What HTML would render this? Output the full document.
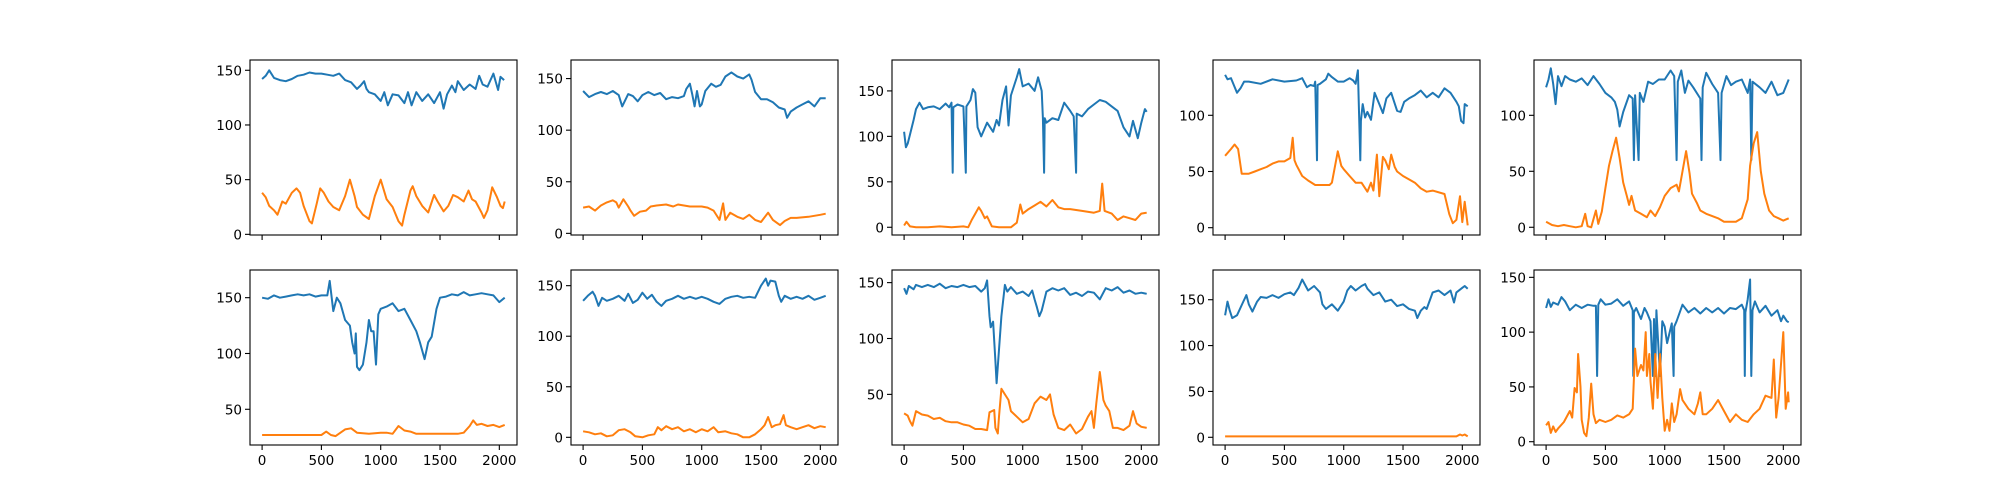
<!DOCTYPE html>
<html><head><meta charset="utf-8"><style>
html,body{margin:0;padding:0;background:#fff;}
svg{display:block;font-family:"DejaVu Sans","Liberation Sans",sans-serif;}
</style></head><body>
<svg id="fig" width="2000" height="500" viewBox="0 0 2000 500" xmlns="http://www.w3.org/2000/svg"></svg>
<script>
// x-axis ticks
const xTicks = [0, 500, 1000, 1500, 2000];
const xRange = [-102, 2149];
// y-limits per panel
const yLims = [[-0.6,159.4],[-1.6,168],[-8.5,184],[-6.5,149.2],[-6.9,149.4],[18,174.8],[-7.6,165.5],[4.7,161.3],[-8.4,182.4],[-3,156.7]];
// series: [x,y] pairs (blue = series A, orange = series B)
const blue1=[[0,142],[30,145],[60,150],[100,143],[150,141],[200,140],[250,142],[300,145],[350,146],[400,148],[450,147],[500,147],[550,146],[600,145],[650,147],[700,141],[750,139],[800,133],[830,136],[860,140],[880,133],[900,130],[950,128],[1000,122],[1030,130],[1060,118],[1100,128],[1150,127],[1200,120],[1230,130],[1260,118],[1300,130],[1350,122],[1400,128],[1450,120],[1500,130],[1530,115],[1560,128],[1600,136],[1630,130],[1650,140],[1700,132],[1750,137],[1800,133],[1830,145],[1860,137],[1900,135],[1950,147],[1990,132],[2010,144],[2040,141]];
const orange1=[[0,38],[30,34],[60,26],[100,22],[130,18],[170,30],[200,28],[250,38],[290,42],[320,38],[350,26],[400,12],[420,10],[460,28],[490,42],[520,38],[560,30],[600,25],[650,22],[700,35],[740,50],[780,35],[800,25],[850,18],[900,14],[950,35],[1000,50],[1050,32],[1100,25],[1150,12],[1180,8],[1200,18],[1250,40],[1270,44],[1300,35],[1350,26],[1400,20],[1450,36],[1480,30],[1530,21],[1570,26],[1610,36],[1650,34],[1700,30],[1740,40],[1770,32],[1800,30],[1850,20],[1870,15],[1900,22],[1940,43],[1980,34],[2010,26],[2030,24],[2045,30]];
const blue2=[[0,138],[50,132],[100,135],[150,137],[200,135],[250,138],[300,134],[330,123],[380,135],[420,133],[460,128],[500,134],[550,137],[600,134],[650,136],[700,130],[750,132],[800,131],[850,133],[870,140],[900,145],[920,135],[940,123],[960,138],[985,123],[1000,125],[1030,138],[1080,145],[1120,142],[1160,144],[1200,152],[1250,156],[1300,152],[1350,150],[1400,154],[1420,149],[1450,137],[1500,130],[1550,130],[1600,127],[1650,122],[1700,120],[1720,112],[1750,118],[1800,122],[1850,125],[1900,128],[1950,123],[2000,131],[2045,131]];
const orange2=[[0,25],[50,26],[100,22],[150,27],[200,30],[250,32],[280,30],[300,25],[340,33],[380,26],[400,22],[430,17],[480,21],[530,22],[570,26],[620,27],[700,28],[760,26],[800,28],[900,26],[1000,26],[1050,25],[1100,22],[1150,13],[1180,29],[1200,13],[1240,20],[1300,16],[1350,14],[1400,18],[1450,13],[1500,11],[1560,20],[1600,13],[1660,8],[1700,12],[1750,15],[1800,15],[1900,16],[2000,18],[2045,19]];
const blue3=[[0,105],[15,88],[30,92],[50,102],[80,118],[100,130],[130,137],[160,130],[200,132],[250,133],[300,130],[350,136],[380,132],[400,137],[410,60],[415,132],[450,135],[500,133],[520,60],[525,133],[560,140],[580,152],[600,148],[620,110],[650,100],[700,115],[750,105],[780,118],[800,112],[830,140],[860,155],[880,112],[900,145],[950,165],[970,174],[1000,155],[1050,158],[1100,150],[1130,165],[1160,150],[1170,120],[1180,60],[1185,120],[1200,115],[1250,120],[1300,118],[1350,137],[1400,128],[1430,122],[1450,60],[1455,125],[1500,122],[1550,130],[1600,135],[1650,140],[1700,138],[1750,133],[1800,128],[1850,110],[1900,100],[1930,117],[1970,98],[2000,115],[2030,130],[2045,127]];
const orange3=[[0,2],[20,6],[50,1],[100,0],[200,0],[300,1],[400,0],[500,1],[540,0],[570,8],[600,15],[630,22],[650,18],[680,10],[700,12],[740,1],[800,0],[850,0],[900,0],[950,5],[980,25],[1000,15],[1050,20],[1100,24],[1150,28],[1200,23],[1250,30],[1300,22],[1350,20],[1400,20],[1500,18],[1600,16],[1650,18],[1670,48],[1690,18],[1750,15],[1800,8],[1850,12],[1900,10],[1950,8],[2000,15],[2045,16]];
const blue4=[[0,136],[20,132],[50,133],[100,120],[130,124],[160,130],[200,130],[300,128],[400,132],[500,130],[600,131],[650,133],[690,125],[720,127],[750,126],[760,130],[775,60],[780,127],[800,128],[850,132],[870,137],[900,134],[950,130],[1000,130],[1050,133],[1080,131],[1100,128],[1120,140],[1130,100],[1140,60],[1145,95],[1160,110],[1180,98],[1200,103],[1230,96],[1260,120],[1300,110],[1330,102],[1360,115],[1400,120],[1450,104],[1480,103],[1510,112],[1550,115],[1600,118],[1650,122],[1700,116],[1750,120],[1800,116],[1850,124],[1900,120],[1950,112],[1970,108],[1990,95],[2010,93],[2020,110],[2045,108]];
const orange4=[[0,64],[50,70],[80,74],[110,70],[140,48],[200,48],[250,50],[300,52],[350,54],[400,57],[450,59],[500,59],[550,62],[570,80],[585,60],[600,56],[650,46],[700,42],[760,38],[800,38],[850,38],[880,38],[900,40],[950,68],[980,55],[1000,52],[1050,46],[1100,40],[1150,40],[1200,32],[1230,40],[1250,33],[1280,65],[1300,28],[1330,63],[1350,60],[1380,52],[1400,65],[1430,54],[1450,50],[1500,46],[1550,43],[1600,40],[1650,35],[1700,32],[1750,33],[1850,30],[1890,12],[1920,4],[1950,7],[1980,28],[2000,5],[2020,23],[2045,2]];
const blue5=[[0,125],[20,132],[40,142],[60,128],[80,110],[100,135],[130,126],[160,135],[200,132],[250,130],[300,133],[350,127],[400,135],[450,128],[500,120],[550,116],[580,112],[600,105],[620,90],[650,103],[700,118],[730,115],[740,60],[750,118],[780,60],[790,120],[820,112],[860,130],[900,128],[950,132],[1000,132],[1050,140],[1080,135],[1100,60],[1110,130],[1140,140],[1170,120],[1200,131],[1240,125],[1300,115],[1310,60],[1320,125],[1350,138],[1400,128],[1450,120],[1470,60],[1480,120],[1520,135],[1560,127],[1600,130],[1650,132],[1700,120],[1720,132],[1730,60],[1740,130],[1800,125],[1850,120],[1900,130],[1950,118],[2000,120],[2045,132]];
const orange5=[[0,5],[50,2],[100,1],[150,2],[200,1],[250,0],[300,1],[330,12],[350,1],[380,0],[420,15],[440,3],[470,14],[500,35],[530,55],[560,68],[590,80],[620,62],[650,40],[680,28],[700,20],[720,28],[750,15],[800,12],[850,9],[880,15],[920,10],[960,18],[1000,28],[1050,35],[1100,38],[1120,32],[1150,50],[1180,68],[1210,48],[1230,30],[1270,22],[1300,15],[1350,12],[1400,10],[1450,8],[1500,5],[1550,5],[1600,5],[1650,8],[1700,25],[1720,55],[1750,75],[1780,85],[1810,50],[1840,30],[1880,15],[1920,10],[1960,8],[2000,6],[2045,8]];
const blue6=[[0,150],[50,149],[100,152],[150,150],[200,151],[250,152],[300,153],[350,152],[400,153],[450,151],[500,152],[550,152],[570,165],[600,138],[630,150],[660,145],[700,130],[740,125],[760,110],[780,100],[790,118],[800,88],[820,85],[850,90],[880,110],[900,130],[920,120],[940,120],[960,90],[980,135],[1000,140],[1050,142],[1100,145],[1150,138],[1200,140],[1250,130],[1300,120],[1330,110],[1370,95],[1400,110],[1430,115],[1470,140],[1500,150],[1550,151],[1600,153],[1650,152],[1700,155],[1750,152],[1800,153],[1850,154],[1900,153],[1950,152],[2000,146],[2045,150]];
const orange6=[[0,27],[500,27],[540,30],[580,27],[620,26],[700,32],[750,33],[800,29],[900,28],[1000,29],[1050,29],[1100,28],[1150,35],[1200,31],[1250,30],[1300,28],[1400,28],[1500,28],[1650,28],[1700,29],[1750,35],[1780,40],[1810,36],[1850,37],[1900,35],[1950,36],[2000,34],[2045,36]];
const blue7=[[0,135],[40,140],[80,144],[100,140],[130,130],[160,138],[200,135],[250,137],[300,140],[350,135],[380,142],[420,133],[460,136],[500,143],[540,137],[580,141],[620,134],[660,130],[700,135],[750,137],[800,140],[850,137],[900,139],[950,137],[1000,139],[1050,137],[1100,134],[1150,132],[1200,137],[1250,139],[1300,140],[1350,138],[1400,139],[1450,138],[1500,150],[1540,157],[1560,150],[1580,155],[1620,154],[1650,140],[1670,134],[1700,140],[1750,137],[1800,139],[1850,137],[1900,140],[1950,136],[2000,138],[2045,140]];
const orange7=[[0,6],[50,5],[100,3],[150,4],[200,1],[250,2],[300,7],[350,8],[400,5],[440,1],[500,0],[550,2],[600,3],[630,10],[660,7],[700,11],[750,8],[800,10],[850,6],[900,8],[950,5],[1000,8],[1050,6],[1100,10],[1140,5],[1200,6],[1250,4],[1300,3],[1350,0],[1400,0],[1450,3],[1500,8],[1530,12],[1560,20],[1590,10],[1620,12],[1660,13],[1690,22],[1710,12],[1750,10],[1800,8],[1850,10],[1900,12],[1950,9],[2000,11],[2045,10]];
const blue8=[[0,145],[20,140],[40,147],[80,144],[100,148],[150,146],[200,148],[250,146],[300,149],[350,145],[400,147],[450,146],[500,148],[550,146],[600,147],[650,142],[680,145],[700,152],[720,120],[730,110],[750,115],[770,80],[780,60],[800,90],[820,120],[850,148],[870,142],[900,146],[950,140],[1000,142],[1050,138],[1080,143],[1100,135],[1120,128],[1140,120],[1160,125],[1200,142],[1250,145],[1300,143],[1350,145],[1400,139],[1450,141],[1500,138],[1550,142],[1600,141],[1650,135],[1700,145],[1750,143],[1800,146],[1850,141],[1900,143],[1950,140],[2000,141],[2045,140]];
const orange8=[[0,33],[30,31],[50,26],[70,22],[100,35],[150,32],[200,31],[250,28],[300,29],[350,26],[400,25],[450,25],[500,23],[550,22],[600,19],[650,19],[700,18],[720,34],[760,36],[770,20],[790,15],[800,30],[820,55],[850,50],[880,45],[900,35],[950,30],[1000,25],[1050,28],[1100,42],[1150,48],[1200,45],[1230,50],[1260,32],[1300,20],[1350,18],[1400,23],[1450,15],[1500,19],[1550,30],[1580,35],[1600,20],[1620,42],[1650,70],[1680,45],[1700,40],[1730,35],[1760,20],[1800,20],[1850,18],[1900,22],[1930,35],[1960,24],[2000,21],[2045,20]];
const blue9=[[0,133],[20,148],[40,138],[60,130],[100,133],[150,147],[180,155],[200,145],[230,137],[270,148],[300,153],[350,152],[400,155],[450,152],[500,156],[550,158],[580,155],[620,163],[650,172],[700,160],[750,165],[800,158],[820,145],[850,140],[900,145],[950,138],[1000,148],[1030,160],[1060,165],[1100,160],[1150,165],[1180,167],[1200,162],[1250,155],[1300,158],[1350,148],[1400,150],[1450,143],[1500,145],[1550,140],[1600,138],[1620,130],[1650,138],[1680,142],[1700,140],[1750,158],[1800,160],[1850,155],[1900,160],[1930,147],[1950,158],[2000,163],[2020,165],[2045,162]];
const orange9=[[0,1],[1950,1],[1980,3],[2000,2],[2020,3],[2045,1]];
const blue10=[[0,122],[20,130],[40,123],[60,127],[100,125],[130,132],[160,128],[200,120],[250,125],[300,122],[350,125],[400,124],[420,124],[430,60],[440,125],[460,130],[500,125],[550,126],[600,130],[650,124],[700,128],[730,120],[735,60],[740,118],[760,122],[800,112],[830,122],[850,118],[880,110],[900,60],[910,112],[920,60],[930,120],[960,60],[980,110],[1000,105],[1020,90],[1060,108],[1075,60],[1080,105],[1100,110],[1150,125],[1200,118],[1250,122],[1300,117],[1350,122],[1400,118],[1450,122],[1500,117],[1550,122],[1600,121],[1650,125],[1670,120],[1675,60],[1680,118],[1700,130],[1720,148],[1730,60],[1740,120],[1760,128],[1800,118],[1850,124],[1900,115],[1950,120],[1980,110],[2000,115],[2030,110],[2045,109]];
const orange10=[[0,15],[20,18],[40,8],[60,14],[80,9],[100,12],[150,18],[200,28],[220,22],[240,49],[260,45],[270,80],[290,50],[300,20],[320,8],[340,5],[360,22],[380,53],[400,25],[420,17],[450,20],[500,18],[550,20],[600,24],[650,22],[700,25],[730,30],[750,85],[770,60],[800,70],[820,65],[840,100],[850,60],[870,80],[880,55],[900,30],[920,80],[940,40],[960,80],[980,40],[1000,10],[1020,20],[1040,10],[1060,35],[1080,18],[1100,25],[1130,48],[1150,38],[1200,30],[1250,25],[1280,35],[1300,45],[1320,25],[1350,25],[1400,30],[1450,38],[1500,28],[1550,18],[1600,25],[1650,20],[1700,18],[1750,25],[1800,30],[1850,42],[1900,40],[1920,75],[1940,22],[1960,40],[2000,100],[2020,30],[2040,45],[2045,36]];
const blues=[blue1,blue2,blue3,blue4,blue5,blue6,blue7,blue8,blue9,blue10];
const oranges=[orange1,orange2,orange3,orange4,orange5,orange6,orange7,orange8,orange9,orange10];

const NS='http://www.w3.org/2000/svg';
const fig=document.getElementById('fig');
const colX=[250,571,892,1213,1534], rowY=[60,270], W=267, H=175;
function mk(tag,attrs,parent){const e=document.createElementNS(NS,tag);for(const k in attrs)e.setAttribute(k,attrs[k]);parent.appendChild(e);return e;}
for(let p=0;p<10;p++){
  const r=Math.floor(p/5), c=p%5, L=colX[c], T=rowY[r];
  const g=mk('g',{},fig);
  
  
  const [y0,y1]=yLims[p];
  const sx=v=>L+(v-xRange[0])/(xRange[1]-xRange[0])*W;
  const sy=v=>T+H-(v-y0)/(y1-y0)*H;
  const clipId='clip'+p;
  const cp=mk('clipPath',{id:clipId},g);mk('rect',{x:L,y:T,width:W,height:H},cp);
  [[blues[p],'#1f77b4','blue'],[oranges[p],'#ff7f0e','orange']].forEach(([d,col,nm])=>{
    const pts=d.map(q=>sx(q[0]).toFixed(1)+','+sy(q[1]).toFixed(1)).join(' ');
    const pl=mk('polyline',{points:pts,fill:'none',stroke:col,'stroke-width':2,'stroke-linejoin':'round','clip-path':'url(#'+clipId+')'},g);
    
    
  });
  const fr=mk('rect',{x:L,y:T,width:W,height:H,fill:'none',stroke:'#000','stroke-width':1.1},g);
  
  
  xTicks.forEach(t=>{
    const x=sx(t);
    mk('line',{x1:x,y1:T+H,x2:x,y2:T+H+5,stroke:'#000','stroke-width':1.1},g);
    if(r===1){const tx=mk('text',{x:x,y:T+H+20,'text-anchor':'middle','font-size':13.5,fill:'#000'},g);tx.textContent=t;
      
      }
  });
  for(let t=Math.ceil(y0/50)*50;t<=y1;t+=50){
    const y=sy(t);
    mk('line',{x1:L-5,y1:y,x2:L,y2:y,stroke:'#000','stroke-width':1.1},g);
    const tx=mk('text',{x:L-8,y:y+5,'text-anchor':'end','font-size':13.5,fill:'#000'},g);tx.textContent=t;
    
    
  }
}
</script>
</body></html>
